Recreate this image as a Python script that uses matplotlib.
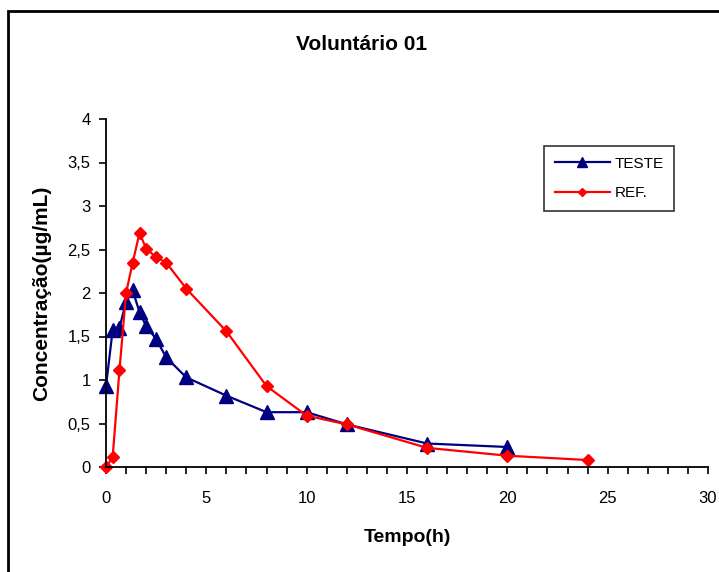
import matplotlib.pyplot as plt
from matplotlib.patches import Rectangle
from matplotlib.ticker import FuncFormatter, MultipleLocator

plt.rcParams['font.family'] = ['Liberation Sans', 'DejaVu Sans']

# tempos de coleta (h)
tempo_teste = [0, 0.33, 0.67, 1, 1.33, 1.67, 2, 2.5, 3, 4, 6, 8, 10, 12, 16, 20]
conc_teste = [0.93, 1.57, 1.60, 1.90, 2.03, 1.78, 1.62, 1.47, 1.26, 1.03, 0.82, 0.63, 0.63, 0.49, 0.27, 0.23]

tempo_ref = [0, 0.33, 0.67, 1, 1.33, 1.67, 2, 2.5, 3, 4, 6, 8, 10, 12, 16, 20, 24]
conc_ref = [0.0, 0.11, 1.11, 2.0, 2.35, 2.69, 2.51, 2.41, 2.35, 2.05, 1.56, 0.93, 0.59, 0.49, 0.22, 0.13, 0.08]

fig = plt.figure(figsize=(7.19, 5.72), dpi=100)
ax = fig.add_axes([106 / 719, 1 - 467 / 572, 602 / 719, 348 / 572])

ax.plot(tempo_teste, conc_teste, color="#000080", marker="^", markersize=10,
        linewidth=1.6, label="TESTE", clip_on=False)
ax.plot(tempo_ref, conc_ref, color="#FF0000", marker="D", markersize=6,
        linewidth=1.6, label="REF.", clip_on=False)

ax.set_xlim(0, 30)
ax.set_ylim(0, 4)
ax.xaxis.set_major_locator(MultipleLocator(5))
ax.xaxis.set_minor_locator(MultipleLocator(1))
ax.yaxis.set_major_locator(MultipleLocator(0.5))
ax.yaxis.set_major_formatter(FuncFormatter(lambda v, p: ("%g" % v).replace(".", ",")))

for s in ["top", "right"]:
    ax.spines[s].set_visible(False)
for s in ["left", "bottom"]:
    ax.spines[s].set_linewidth(1.3)
ax.tick_params(axis="both", which="both", direction="out", length=5, width=1.2,
               labelsize=12, pad=12)
ax.tick_params(axis="y", pad=6)

fig.text(0.503, 1 - 45 / 572, "Voluntário 01", ha="center", va="center",
         fontsize=15, fontweight="bold")
fig.text(407 / 719, 1 - 537 / 572, "Tempo(h)", ha="center", va="center",
         fontsize=14, fontweight="bold")
fig.text(42 / 719, 1 - 293 / 572, "Concentração(µg/mL)", ha="center", va="center",
         rotation=90, fontsize=15, fontweight="bold")

leg = ax.legend(loc="upper left", bbox_to_anchor=(544 / 719, 1 - 146 / 572),
                bbox_transform=fig.transFigure, borderaxespad=0, fancybox=False,
                edgecolor="black", fontsize=11, handlelength=3.6, labelspacing=1.0,
                handletextpad=0.3, borderpad=0.7, markerscale=0.75)
leg.get_frame().set_linewidth(1.2)
leg._legend_box.align = "left"
for t in leg.get_texts():
    t.set_x(0)

fig.patches.append(Rectangle((8 / 719, -0.1), 1.2, 1 - 11 / 572 + 0.1,
                             transform=fig.transFigure, fill=False,
                             edgecolor="black", linewidth=2))

fig.savefig("out.png", dpi=100)
